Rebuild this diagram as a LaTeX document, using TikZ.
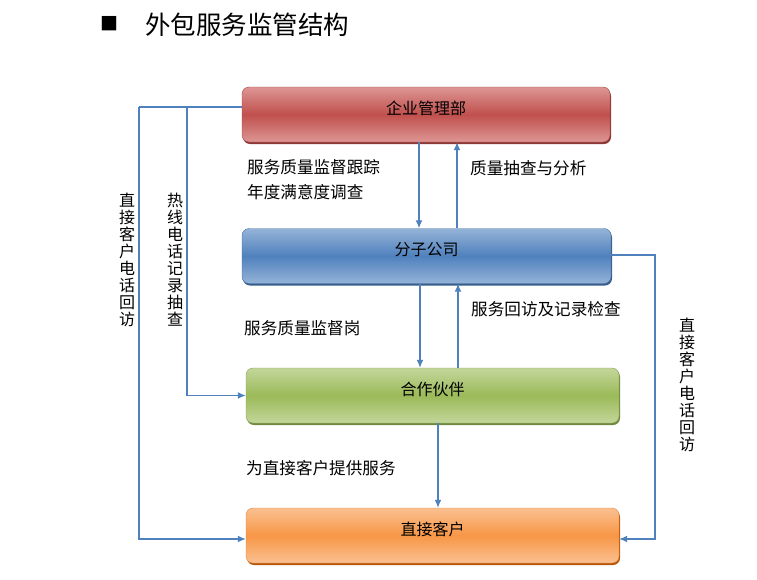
\documentclass[tikz,border=0pt]{standalone}
\usepackage{fontspec}
\usepackage{tikz}
\usetikzlibrary{arrows,arrows.meta,shadows,positioning}
\newfontfamily\cjk{Noto Sans CJK SC}
\definecolor{linkblue}{HTML}{4F81BD}
\definecolor{redmid}{HTML}{C0504D}
\definecolor{redlight}{HTML}{DD9694}
\definecolor{reddark}{HTML}{8C3836}
\definecolor{bluemid}{HTML}{4F81BD}
\definecolor{bluelight}{HTML}{95B3D7}
\definecolor{bluedark}{HTML}{385D8A}
\definecolor{greenmid}{HTML}{9BBB59}
\definecolor{greenlight}{HTML}{C3D69B}
\definecolor{greendark}{HTML}{71893F}
\definecolor{orangemid}{HTML}{F79646}
\definecolor{orangelight}{HTML}{FAC090}
\definecolor{orangedark}{HTML}{B65708}
\tikzstyle{unit} = [rectangle, rounded corners=7pt, minimum height=55pt, inner sep=0pt, text height=12pt, text depth=13pt, font=\cjk\fontsize{16}{17}\selectfont]
\tikzstyle{link} = [line width=1.3pt, linkblue, ->, >={Latex[length=8pt,width=7pt]}]
\tikzstyle{note} = [anchor=west, inner sep=0pt, font=\cjk\fontsize{16.6}{17}\selectfont]
\tikzstyle{vnote} = [align=center, inner sep=0pt, font=\cjk\fontsize{16}{17}\selectfont]

\begin{document}
\begin{tikzpicture}[x=1pt,y=-1pt]
    \useasboundingbox (0,0) rectangle (757,579);
    % title
    \node[inner sep=0pt, font=\cjk\fontsize{18}{18}\selectfont] (bullet) at (109,24) {■};
    \node[inner sep=0pt, font=\cjk\fontsize{25.5}{28}\selectfont] (title) at (247,25) {外包服务监管结构};
    % boxes
    \node[unit, minimum width=368pt, draw=redmid!85!black, top color=redlight, bottom color=redlight, middle color=redmid,
          drop shadow={shadow xshift=1pt, shadow yshift=-2pt, fill=reddark, opacity=1}] (qy) at (426,114.5) {企业管理部};
    \node[unit, minimum width=369pt, draw=bluemid!85!black, top color=bluelight, bottom color=bluelight, middle color=bluemid,
          drop shadow={shadow xshift=1pt, shadow yshift=-2pt, fill=bluedark, opacity=1}] (fz) at (426.5,256) {分子公司};
    \node[unit, minimum width=373pt, draw=greenmid!85!black, top color=greenlight, bottom color=greenlight, middle color=greenmid,
          drop shadow={shadow xshift=1pt, shadow yshift=-2pt, fill=greendark, opacity=1}] (hz) at (432.5,395.5) {合作伙伴};
    \node[unit, minimum width=373pt, draw=orangemid!90!black, top color=orangelight, bottom color=orangelight, middle color=orangemid,
          drop shadow={shadow xshift=1pt, shadow yshift=-2pt, fill=orangedark, opacity=1}] (kh) at (432.5,535.5) {直接客户};
    % vertical arrows
    \draw[link] (qy.south -| 419,0) -- (fz.north -| 419,0);
    \draw[link] (fz.north -| 457,0) -- (qy.south -| 457,0);
    \draw[link] (fz.south -| 420,0) -- (hz.north -| 420,0);
    \draw[link] (hz.north -| 458,0) -- (fz.south -| 458,0);
    \draw[link] (hz.south -| 438,0) -- (kh.north -| 438,0);
    % side loops
    \coordinate (lt) at (139,107);
    \coordinate (it) at (187,107);
    \coordinate (rt) at (655,255);
    \draw[line width=1.3pt, linkblue] ([yshift=7.5pt]qy.west) -- (lt);
    \draw[link] (lt) |- ([yshift=-3.5pt]kh.west);
    \draw[link] (it) |- (hz.west);
    \draw[link] ([yshift=1pt]fz.east) -- (rt) |- ([yshift=-3.5pt]kh.east);
    % labels
    \node[note] (l1) at (247,167) {服务质量监督跟踪};
    \node[note] (l2) at (247,192) {年度满意度调查};
    \node[note] (l3) at (470,168) {质量抽查与分析};
    \node[note] (l4) at (471,309) {服务回访及记录检查};
    \node[note] (l5) at (244,328) {服务质量监督岗};
    \node[note] (l6) at (246,468) {为直接客户提供服务};
    \node[vnote] (v1) at (127,259.5) {直\\接\\客\\户\\电\\话\\回\\访};
    \node[vnote] (v2) at (175,259.5) {热\\线\\电\\话\\记\\录\\抽\\查};
    \node[vnote] (v3) at (687,385) {直\\接\\客\\户\\电\\话\\回\\访};
\end{tikzpicture}
\end{document}
